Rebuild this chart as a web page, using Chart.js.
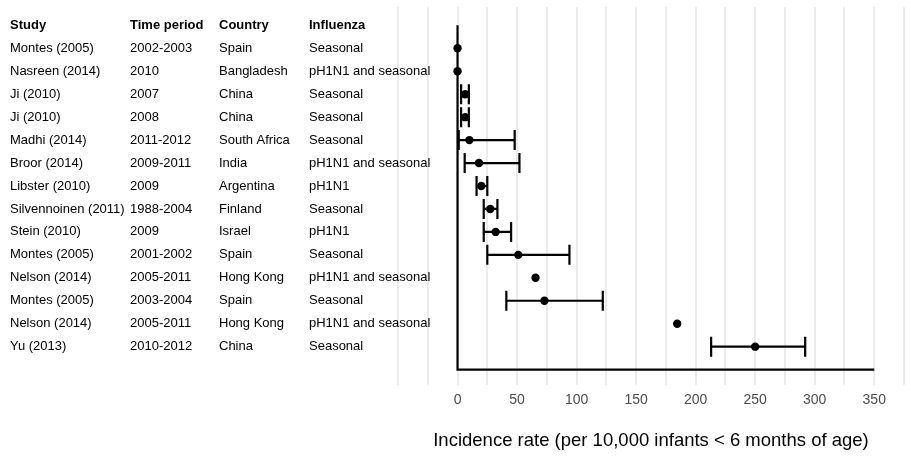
<!DOCTYPE html>
<html>
<head>
<meta charset="utf-8">
<script src="https://cdn.jsdelivr.net/npm/chart.js@4.4.1/dist/chart.umd.min.js"></script>
<style>
  html, body { margin: 0; padding: 0; background: #ffffff; }
  canvas { display: block; }
</style>
</head>
<body>
<canvas id="forest" width="911" height="466"></canvas>
<script>
// Table columns on the left
const headers = ['Study', 'Time period', 'Country', 'Influenza'];
const studies = ['Montes (2005)', 'Nasreen (2014)', 'Ji (2010)', 'Ji (2010)', 'Madhi (2014)', 'Broor (2014)',
  'Libster (2010)', 'Silvennoinen (2011)', 'Stein (2010)', 'Montes (2005)', 'Nelson (2014)', 'Montes (2005)',
  'Nelson (2014)', 'Yu (2013)'];
const periods = ['2002-2003', '2010', '2007', '2008', '2011-2012', '2009-2011', '2009', '1988-2004', '2009',
  '2001-2002', '2005-2011', '2003-2004', '2005-2011', '2010-2012'];
const countries = ['Spain', 'Bangladesh', 'China', 'China', 'South Africa', 'India', 'Argentina', 'Finland',
  'Israel', 'Spain', 'Hong Kong', 'Spain', 'Hong Kong', 'China'];
const influenza = ['Seasonal', 'pH1N1 and seasonal', 'Seasonal', 'Seasonal', 'Seasonal', 'pH1N1 and seasonal',
  'pH1N1', 'Seasonal', 'pH1N1', 'Seasonal', 'pH1N1 and seasonal', 'Seasonal', 'pH1N1 and seasonal', 'Seasonal'];

// Incidence rate and 95% CI (null = no interval shown)
const rates = [0, 0, 6.4, 6.4, 10, 18, 20, 27.5, 32, 51, 65.5, 73, 184.5, 250];
const lower = [null, null, 3, 3, 1, 6, 16, 22, 22, 25, null, 41, null, 213];
const upper = [null, null, 9.5, 9.5, 48, 52, 25, 33.5, 45, 94, null, 122, null, 292];

// x axis
const xMin = -50;
const xMax = 375;
const axisEnd = 350;
const tickStep = 25;
const labelStep = 50;

const FONT = "'Liberation Sans', Arial, Helvetica, sans-serif";
const columnX = [10, 130, 219, 309];
const lastRow = studies.length + 1;

// error bars, drawn before the points so the dots sit on top
const errorBarPlugin = {
  id: 'errorBars',
  beforeDatasetsDraw(chart) {
    const { ctx, scales: { x, y } } = chart;
    ctx.save();
    ctx.strokeStyle = '#000000';
    ctx.lineWidth = 2.2;
    lower.forEach((lo, i) => {
      if (lo === null) return;
      const yy = y.getPixelForValue(i + 1);
      const x1 = x.getPixelForValue(lo);
      const x2 = x.getPixelForValue(upper[i]);
      ctx.beginPath();
      ctx.moveTo(x1, yy); ctx.lineTo(x2, yy);
      ctx.moveTo(x1, yy - 10); ctx.lineTo(x1, yy + 10);
      ctx.moveTo(x2, yy - 10); ctx.lineTo(x2, yy + 10);
      ctx.stroke();
    });
    ctx.restore();
  }
};

// study table text
const tablePlugin = {
  id: 'studyTable',
  afterDraw(chart) {
    const { ctx, scales: { y } } = chart;
    ctx.save();
    ctx.fillStyle = '#000000';
    ctx.textBaseline = 'middle';
    ctx.textAlign = 'left';
    ctx.font = 'bold 13px ' + FONT;
    headers.forEach((h, c) => ctx.fillText(h, columnX[c], y.getPixelForValue(0)));
    ctx.font = '13px ' + FONT;
    const cols = [studies, periods, countries, influenza];
    studies.forEach((s, i) => {
      const yy = y.getPixelForValue(i + 1);
      cols.forEach((col, c) => ctx.fillText(col[i], columnX[c], yy));
    });
    ctx.restore();
  }
};

new Chart(document.getElementById('forest'), {
  data: {
    datasets: [
      {
        type: 'line',
        data: [{ x: 0, y: 0 }, { x: 0, y: lastRow }, { x: axisEnd, y: lastRow }],
        borderColor: '#000000',
        borderWidth: 2.2,
        pointRadius: 0,
        fill: false,
        order: 2
      },
      {
        type: 'scatter',
        data: rates.map((r, i) => ({ x: r, y: i + 1 })),
        backgroundColor: '#000000',
        borderWidth: 0,
        pointRadius: 4.2,
        order: 1
      }
    ]
  },
  options: {
    responsive: false,
    animation: false,
    layout: { padding: { left: 398, right: 5, top: 7, bottom: 0 } },
    plugins: { legend: { display: false }, tooltip: { enabled: false } },
    scales: {
      x: {
        type: 'linear',
        min: xMin,
        max: xMax,
        border: { display: false },
        grid: { color: '#ebebeb', lineWidth: 2, drawTicks: false },
        ticks: {
          stepSize: tickStep,
          padding: 7,
          color: '#4d4d4d',
          font: { family: FONT, size: 14 },
          maxRotation: 0,
          autoSkip: false,
          callback: (v) => (v >= 0 && v <= axisEnd && v % labelStep === 0) ? String(v) : ''
        },
        title: {
          display: true,
          text: 'Incidence rate (per 10,000 infants < 6 months of age)',
          color: '#000000',
          font: { family: FONT, size: 18.5 },
          padding: { top: 0, bottom: 14 }
        },
        afterFit: (scale) => { scale.height = 81; }
      },
      y: {
        type: 'linear',
        display: false,
        reverse: true,
        min: -0.8,
        max: 15.67
      }
    }
  },
  plugins: [errorBarPlugin, tablePlugin]
});
</script>
</body>
</html>
